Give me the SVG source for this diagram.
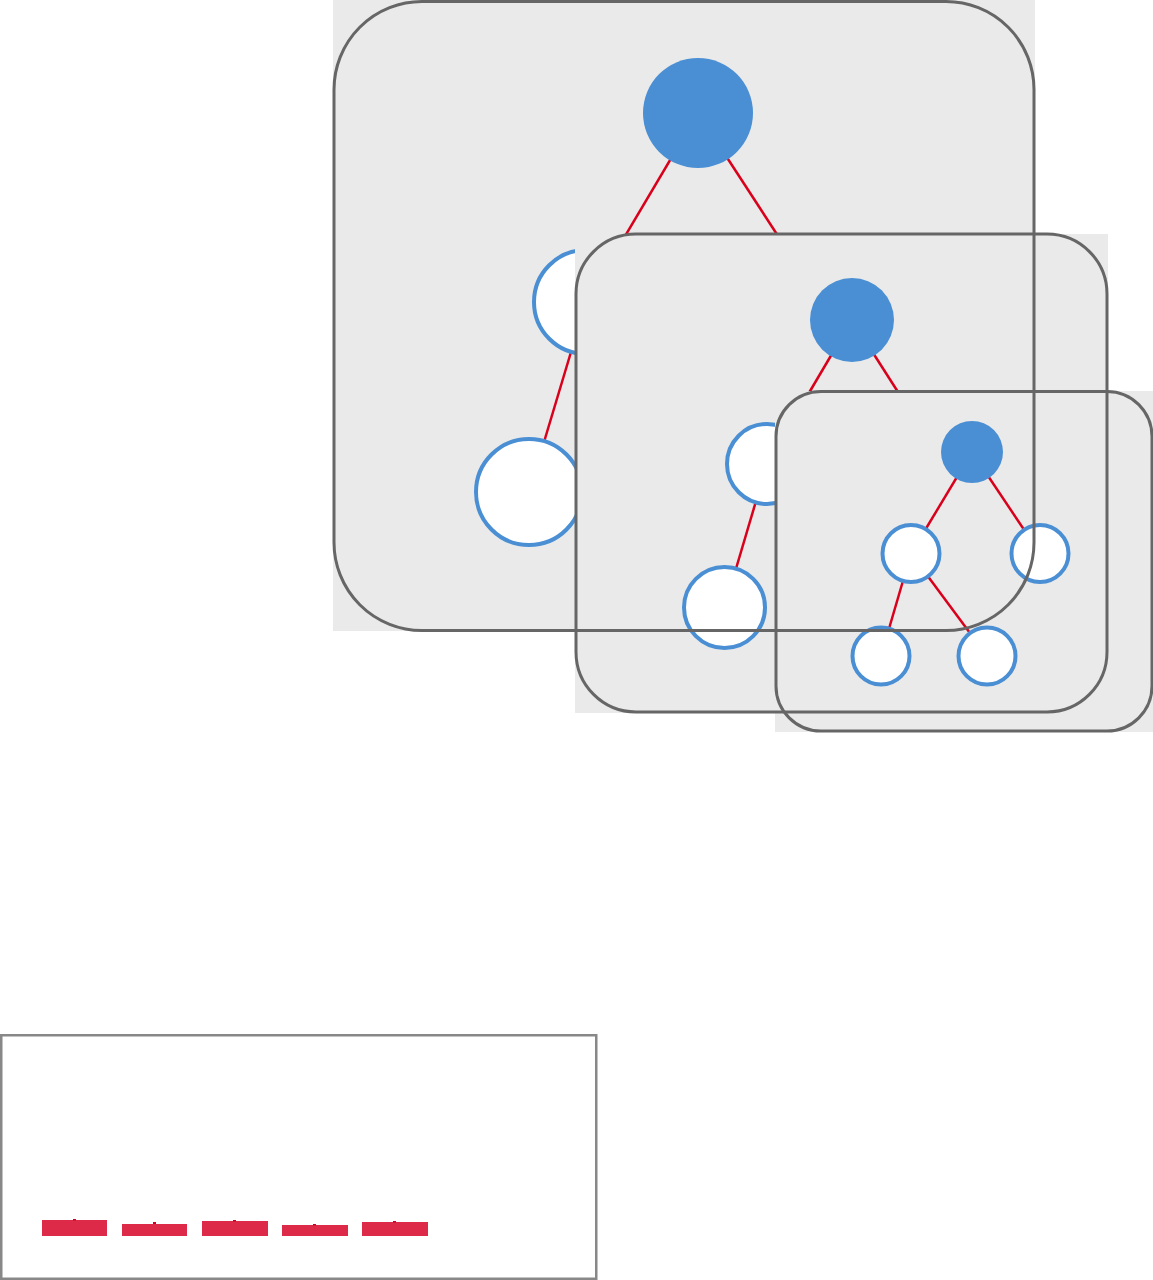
<svg xmlns="http://www.w3.org/2000/svg" width="1153" height="1280" viewBox="0 0 1153 1280">
<style>
.bg{fill:#EAEAEA;stroke:none}
.frame{fill:none;stroke:#666666;stroke-width:3}
.edge{stroke:#D9001B;stroke-width:2.5;fill:none}
.root{fill:#4A8FD4;stroke:none}
.leaf{fill:#FFFFFF;stroke:#4A8FD4;stroke-width:4}
.bar{fill:#DD2A48}
.tick{fill:#D00020}
</style>
<rect width="1153" height="1280" fill="#FFFFFF"/>
<g id="panel1">
<rect class="bg" x="333" y="0" width="702" height="631"/>
<g id="connectors1">
<line class="edge" x1="698" y1="113" x2="586" y2="302"/>
<line class="edge" x1="698" y1="113" x2="821" y2="302"/>
<line class="edge" x1="586" y1="302" x2="529" y2="492"/>
</g>
<circle id="p1-root" class="root" cx="698" cy="113" r="55"/>
<circle id="p1-left" class="leaf" cx="586" cy="302" r="52"/>
<circle id="p1-leftleft" class="leaf" cx="529" cy="492" r="53"/>
</g>
<g id="panel2">
<rect class="bg" x="575" y="234" width="533" height="479"/>
<g id="connectors2">
<line class="edge" x1="852" y1="320" x2="767" y2="464"/>
<line class="edge" x1="852" y1="320" x2="944" y2="464"/>
<line class="edge" x1="767" y1="464" x2="724.5" y2="607.5"/>
</g>
<circle id="p2-root" class="root" cx="852" cy="320" r="42"/>
<circle id="p2-left" class="leaf" cx="767" cy="464" r="40"/>
<circle id="p2-leftleft" class="leaf" cx="724.5" cy="607.5" r="40.5"/>
</g>
<g id="panel3">
<rect class="bg" x="775" y="391" width="378" height="341"/>
<g id="connectors3">
<line class="edge" x1="972" y1="452" x2="911" y2="553.5"/>
<line class="edge" x1="972" y1="452" x2="1040" y2="553.5"/>
<line class="edge" x1="911" y1="553.5" x2="881" y2="656"/>
<line class="edge" x1="911" y1="553.5" x2="987" y2="656"/>
</g>
<circle id="p3-root" class="root" cx="972" cy="452" r="31"/>
<circle id="p3-left" class="leaf" cx="911" cy="553.5" r="28.5"/>
<circle id="p3-right" class="leaf" cx="1040" cy="553.5" r="28.5"/>
<circle id="p3-leftleft" class="leaf" cx="881" cy="656" r="28.5"/>
<circle id="p3-leftright" class="leaf" cx="987" cy="656" r="28.5"/>
</g>
<g id="frames">
<rect class="frame" x="334" y="1.5" width="700" height="629" rx="88" ry="88"/>
<rect class="frame" x="576" y="234" width="531" height="478" rx="60" ry="60"/>
<rect class="frame" x="776" y="391.5" width="376" height="339.5" rx="45" ry="45"/>
</g>
<g id="chart">
<rect x="1.25" y="1035.25" width="595" height="243.5" fill="#FFFFFF" stroke="#888888" stroke-width="2.5"/>
<rect class="bar" x="42" y="1220" width="65" height="16"/>
<rect class="tick" x="73" y="1219" width="3" height="1.5"/>
<rect class="bar" x="122" y="1224" width="65" height="12"/>
<rect class="tick" x="153" y="1222" width="3" height="2"/>
<rect class="bar" x="202" y="1221" width="66" height="15"/>
<rect class="tick" x="233" y="1220" width="3" height="1.5"/>
<rect class="bar" x="282" y="1225" width="66" height="11"/>
<rect class="tick" x="313" y="1224" width="3" height="1.5"/>
<rect class="bar" x="362" y="1222" width="66" height="14"/>
<rect class="tick" x="393" y="1221" width="3" height="1.5"/>
</g>
</svg>
